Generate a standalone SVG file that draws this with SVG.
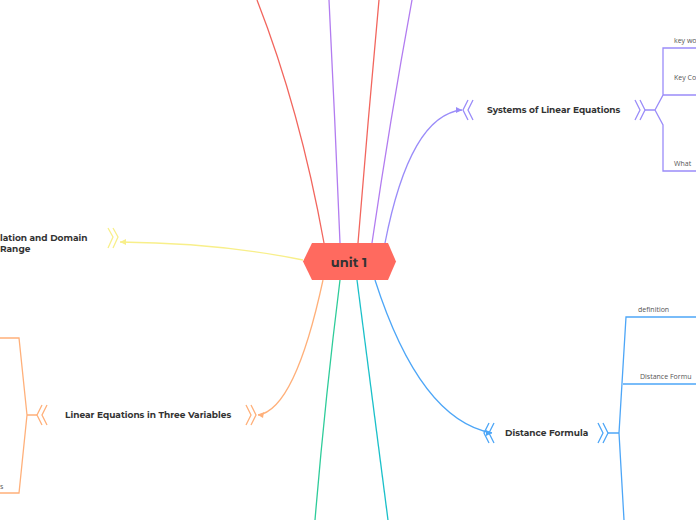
<svg xmlns="http://www.w3.org/2000/svg" width="696" height="520" viewBox="0 0 696 520">
<style>
.c{fill:none;stroke-width:1.3}
.t{font-family:Montserrat,"Open Sans","Liberation Sans",sans-serif;font-weight:bold;font-size:9px;fill:#333}
.s{font-family:"Open Sans","Liberation Sans",sans-serif;font-size:7px;fill:#555}
</style>
<rect width="696" height="520" fill="#fff"/>
<g id="connectors">
<path class="c" stroke="#f2665e" d="M257,0 Q300,110 324,243"/>
<path class="c" stroke="#b27cf0" d="M329,0 Q335,120 340,243"/>
<path class="c" stroke="#f2665e" d="M379,0 Q368,120 358,243"/>
<path class="c" stroke="#b27cf0" d="M412,0 Q390,120 372,243"/>
<path class="c" stroke="#9a8cf9" d="M385,243 Q410,115 462,110"/>
<path class="c" stroke="#4da6f7" d="M375,280 Q420,420 492,433"/>
<path class="c" stroke="#f8ef8a" d="M303,260 Q220,243 120,242"/>
<path class="c" stroke="#ffb07a" d="M323,280 Q295,410 258,415"/>
<path class="c" stroke="#2ecc9a" d="M340,280 Q325,400 315,520"/>
<path class="c" stroke="#1ac0c9" d="M357,280 Q372,400 388,520"/>
<path fill="#f8ef8a" d="M120,242 l6,-3 v6z"/>
<path fill="#ffb07a" d="M258,415 l6,-3 l-1,6z"/>
<path fill="#9a8cf9" d="M462,110 l-6,-3 v6z"/>
<path fill="#4da6f7" d="M492,433 l-6,-3 v6z"/>
<path class="c" stroke="#9a8cf9" d="M645,110 H655 M655,110 L663,95 L663,48 H696 M663,95 H696 M655,110 L663,125 L663,171 H696"/>
<path class="c" stroke="#4da6f7" d="M608,433 H619 M619,433 L626,317 H696 M623,384 L627,384 H696 M619,433 L624,520"/>
<path class="c" stroke="#ffb07a" d="M37,415 H27 M27,415 L19,338 H0 M27,415 L19,493 H0"/>
</g>
<g id="center">
<path d="M312,243 H388 L396,261.5 L388,280 H312 L303,261.5Z" fill="#ff6a5f"/>
<text x="349" y="266.5" text-anchor="middle" font-family="Montserrat,'Open Sans','Liberation Sans',sans-serif" font-weight="bold" font-size="13" fill="#333">unit 1</text>
</g>
<g id="systems">
<path class="c" stroke="#9a8cf9" d="M468,100 L463,110 L468,120 M473,100 L468,110 L473,120 M635,100 L640,110 L635,120 M640,100 L645,110 L640,120"/>
<text class="t" x="487" y="113">Systems of Linear Equations</text>
<text class="s" x="674" y="43">key wo</text>
<text class="s" x="674" y="80">Key Co</text>
<text class="s" x="674" y="166">What</text>
</g>
<g id="distance">
<path class="c" stroke="#4da6f7" d="M489,423 L484,433 L489,443 M494,423 L489,433 L494,443 M598,423 L603,433 L598,443 M603,423 L608,433 L603,443"/>
<text class="t" x="505" y="436">Distance Formula</text>
<text class="s" x="638" y="312">definition</text>
<text class="s" x="640" y="379">Distance Formu</text>
</g>
<g id="relation">
<path class="c" stroke="#f8ef8a" d="M108,228 L113,237 L108,248 M113,228 L118,237 L113,248"/>
<path class="c" stroke="#f8ef8a" d="M110,233 L115,242 L110,258 M115,233 L120,242 L115,258" opacity="0"/>
<text class="t" x="0" y="241">lation and Domain</text>
<text class="t" x="0" y="252">Range</text>
</g>
<g id="linear3">
<path class="c" stroke="#ffb07a" d="M42,405 L37,415 L42,425 M47,405 L42,415 L47,425 M246,405 L251,415 L246,425 M251,405 L256,415 L251,425"/>
<text class="t" x="65" y="418">Linear Equations in Three Variables</text>
<text class="s" x="0" y="489">s</text>
</g>
</svg>
